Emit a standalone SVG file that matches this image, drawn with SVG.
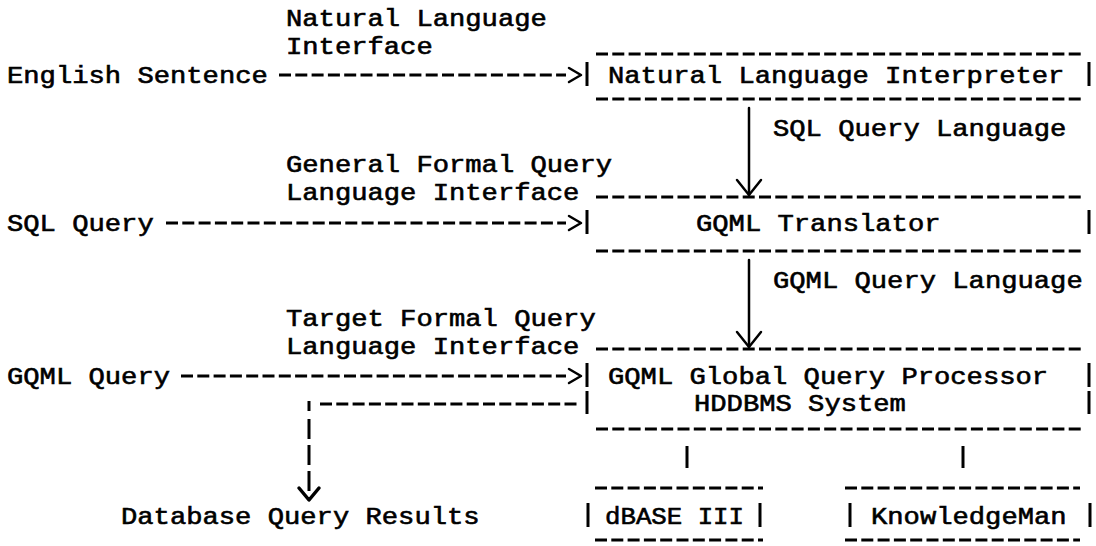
<svg xmlns="http://www.w3.org/2000/svg" width="1096" height="546" viewBox="0 0 1096 546">
<style>
.t{font-family:"Liberation Mono","Courier New",monospace;font-size:24px;font-weight:normal;fill:#000;stroke:#000;stroke-width:0.6px}
.d{stroke:#000;stroke-width:3;stroke-dasharray:12 4.3;fill:none}
.v{stroke:#000;stroke-width:3;stroke-dasharray:20 6;fill:none}
.b{stroke:#000;stroke-width:3;fill:none}
.a{stroke:#000;stroke-width:2.5;fill:none;stroke-linecap:round;stroke-linejoin:round}
</style>
<rect width="1096" height="546" fill="#fff"/>
<g id="n-english"><text class="t" x="7" y="83" textLength="260.8" lengthAdjust="spacingAndGlyphs">English Sentence</text></g>
<g id="n-sql"><text class="t" x="7" y="231" textLength="146.7" lengthAdjust="spacingAndGlyphs">SQL Query</text></g>
<g id="n-gqml"><text class="t" x="7" y="384" textLength="163" lengthAdjust="spacingAndGlyphs">GQML Query</text></g>
<g id="n-results"><text class="t" x="121" y="524" textLength="358.6" lengthAdjust="spacingAndGlyphs">Database Query Results</text></g>
<g id="n-interpreter">
<line class="d" x1="596" y1="54" x2="1081" y2="54"/>
<line class="d" x1="596" y1="99" x2="1081" y2="99"/>
<line class="b" x1="587" y1="62" x2="587" y2="86"/>
<line class="b" x1="1089" y1="62" x2="1089" y2="86"/>
<text class="t" x="608" y="83" textLength="456.4" lengthAdjust="spacingAndGlyphs">Natural Language Interpreter</text>
</g>
<g id="n-translator">
<line class="d" x1="596" y1="197" x2="1081" y2="197"/>
<line class="d" x1="596" y1="251" x2="1081" y2="251"/>
<line class="b" x1="587" y1="210" x2="587" y2="234"/>
<line class="b" x1="1089" y1="210" x2="1089" y2="234"/>
<text class="t" x="696" y="231" textLength="244.5" lengthAdjust="spacingAndGlyphs">GQML Translator</text>
</g>
<g id="n-processor">
<line class="d" x1="596" y1="349" x2="1081" y2="349"/>
<line class="d" x1="596" y1="429" x2="1081" y2="429"/>
<line class="b" x1="587" y1="363" x2="587" y2="387"/>
<line class="b" x1="587" y1="391" x2="587" y2="414"/>
<line class="b" x1="1089" y1="363" x2="1089" y2="387"/>
<line class="b" x1="1089" y1="391" x2="1089" y2="414"/>
<text class="t" x="608" y="384" textLength="440.1" lengthAdjust="spacingAndGlyphs">GQML Global Query Processor</text>
<text class="t" x="694" y="411" textLength="211.9" lengthAdjust="spacingAndGlyphs">HDDBMS System</text>
</g>
<g id="n-dbase">
<line class="d" x1="595" y1="488" x2="763" y2="488"/>
<line class="d" x1="595" y1="540" x2="763" y2="540"/>
<line class="b" x1="588" y1="503" x2="588" y2="527"/>
<line class="b" x1="760" y1="503" x2="760" y2="527"/>
<text class="t" x="605" y="524" textLength="139" lengthAdjust="spacingAndGlyphs">dBASE III</text>
</g>
<g id="n-knowledgeman">
<line class="d" x1="845" y1="488" x2="1080" y2="488"/>
<line class="d" x1="845" y1="540" x2="1080" y2="540"/>
<line class="b" x1="850" y1="503" x2="850" y2="527"/>
<line class="b" x1="1090" y1="503" x2="1090" y2="527"/>
<text class="t" x="871" y="524" textLength="195.6" lengthAdjust="spacingAndGlyphs">KnowledgeMan</text>
</g>
<g id="connectors">
<text class="t" x="286" y="26" textLength="260.8" lengthAdjust="spacingAndGlyphs">Natural Language</text>
<text class="t" x="286" y="54" textLength="146.7" lengthAdjust="spacingAndGlyphs">Interface</text>
<line class="d" x1="279" y1="75" x2="566" y2="75"/>
<path class="a" d="M569 68L581 75L569 82"/>
<line class="a" x1="749" y1="108" x2="749" y2="195"/>
<path class="a" d="M737 180L749 195L761 180"/>
<text class="t" x="773" y="136" textLength="293.4" lengthAdjust="spacingAndGlyphs">SQL Query Language</text>
<text class="t" x="286" y="172" textLength="326" lengthAdjust="spacingAndGlyphs">General Formal Query</text>
<text class="t" x="286" y="200" textLength="293.4" lengthAdjust="spacingAndGlyphs">Language Interface</text>
<line class="d" x1="166" y1="223" x2="566" y2="223"/>
<path class="a" d="M569 216L581 223L569 230"/>
<line class="a" x1="749" y1="260" x2="749" y2="347"/>
<path class="a" d="M737 332L749 347L761 332"/>
<text class="t" x="773" y="288" textLength="309.7" lengthAdjust="spacingAndGlyphs">GQML Query Language</text>
<text class="t" x="286" y="326" textLength="309.7" lengthAdjust="spacingAndGlyphs">Target Formal Query</text>
<text class="t" x="286" y="354" textLength="293.4" lengthAdjust="spacingAndGlyphs">Language Interface</text>
<line class="d" x1="181" y1="376" x2="566" y2="376"/>
<path class="a" d="M569 369L581 376L569 383"/>
<line class="d" x1="320" y1="404" x2="577" y2="404"/>
<line class="b" x1="309" y1="401" x2="309" y2="411"/>
<line class="v" x1="309" y1="419" x2="309" y2="498"/>
<path class="a" style="stroke-width:3.5" d="M299 488L309 500L319 488"/>
<line class="b" x1="687" y1="446" x2="687" y2="468"/>
<line class="b" x1="963" y1="446" x2="963" y2="468"/>
</g>
</svg>
